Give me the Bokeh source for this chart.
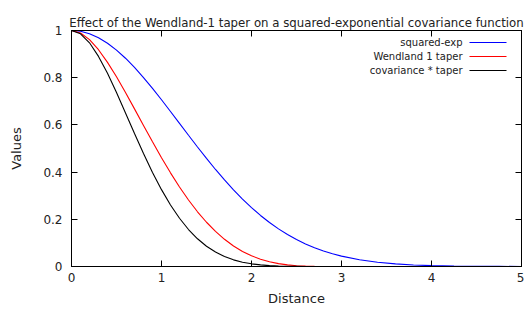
from bokeh.plotting import figure
from bokeh.models import LinearAxis, FixedTicker, Label, Arrow, Range1d
from bokeh.embed import file_html
from bokeh.resources import INLINE

# ---- data ----
distance = [0.0, 0.1, 0.2, 0.3, 0.4, 0.5, 0.6, 0.7, 0.8, 0.9,
            1.0, 1.1, 1.2, 1.3, 1.4, 1.5, 1.6, 1.7, 1.8, 1.9,
            2.0, 2.1, 2.2, 2.3, 2.4, 2.5, 2.6, 2.7, 2.8, 2.9,
            3.0, 3.2, 3.4, 3.6, 3.8, 4.0, 4.25, 4.5, 4.75, 5.0]
squared_exp = [1.0, 0.9965, 0.9862, 0.9692, 0.9460, 0.9169, 0.8825, 0.8435, 0.8007, 0.7548,
               0.7066, 0.6569, 0.6065, 0.5561, 0.5063, 0.4578, 0.4111, 0.3666, 0.3247, 0.2855,
               0.2494, 0.2163, 0.1863, 0.1593, 0.1353, 0.1141, 0.0956, 0.0796, 0.0657, 0.0539,
               0.0439, 0.0286, 0.0181, 0.0111, 0.0066, 0.0039, 0.0019, 0.0009, 0.0004, 0.0002]
wendland_taper = [1.0, 0.9896, 0.9612, 0.9185, 0.8651, 0.8038, 0.7373, 0.6679, 0.5977, 0.5282,
                  0.4609, 0.3969, 0.3370, 0.2818, 0.2319, 0.1875, 0.1486, 0.1152, 0.0870, 0.0639,
                  0.0453, 0.0308, 0.0199, 0.0121, 0.0067, 0.0033, 0.0014, 0.0005, 0.0001, 0.0,
                  0.0, 0.0, 0.0, 0.0, 0.0, 0.0, 0.0, 0.0, 0.0, 0.0]
cov_times_taper = [1.0, 0.9861, 0.9479, 0.8902, 0.8184, 0.7370, 0.6507, 0.5634, 0.4786, 0.3987,
                   0.3257, 0.2607, 0.2044, 0.1567, 0.1174, 0.0858, 0.0611, 0.0422, 0.0282, 0.0182,
                   0.0113, 0.0067, 0.0037, 0.0019, 0.0009, 0.0004, 0.0001, 0.0, 0.0, 0.0,
                   0.0, 0.0, 0.0, 0.0, 0.0, 0.0, 0.0, 0.0, 0.0, 0.0]

x_ticks = [0, 1, 2, 3, 4, 5]
y_ticks = [0, 0.2, 0.4, 0.6, 0.8, 1]
y_tick_labels = ["0", "0.2", "0.4", "0.6", "0.8", "1"]
series_names = ["squared-exp", "Wendland 1 taper", "covariance * taper"]
series_colors = ["#0000ff", "#ff0000", "#000000"]
title_text = "Effect of the Wendland-1 taper on a squared-exponential covariance function"

FONT = "DejaVu Sans"
W, H = 524, 308

p = figure(width=W, height=H, output_backend="svg", toolbar_location=None,
           x_range=Range1d(0, 5), y_range=Range1d(0, 1),
           min_border_left=71, min_border_right=3, min_border_top=30, min_border_bottom=42,
           title=title_text)
p.title.text_font = FONT
p.title.text_font_size = "11.75px"
p.title.text_font_style = "normal"
p.title.text_color = "#222222"
p.title.align = "center"
p.title.standoff = 2

p.xgrid.visible = False
p.ygrid.visible = False
p.outline_line_color = "black"
p.outline_line_width = 1
p.background_fill_color = "white"
p.border_fill_color = "white"

for ys, c in zip([squared_exp, wendland_taper, cov_times_taper], series_colors):
    p.line(distance, ys, line_color=c, line_width=1.1)

def style_axis(ax, labels=True):
    ax.major_tick_in = 6
    ax.major_tick_out = 0
    ax.minor_tick_line_color = None
    ax.axis_line_color = "black"
    ax.major_tick_line_color = "black"
    ax.major_label_text_font = FONT
    ax.major_label_text_font_size = "12px" if labels else "1px"
    ax.major_label_text_color = "#222222"
    ax.axis_label_text_font = FONT
    ax.axis_label_text_font_size = "13px"
    ax.axis_label_text_font_style = "normal"
    ax.axis_label_text_color = "#222222"
    if not labels:
        ax.major_label_standoff = 0
        ax.major_label_overrides = {t: "" for t in ax.ticker.ticks}

xa = p.xaxis[0]
xa.ticker = FixedTicker(ticks=x_ticks)
xa.axis_label = "Distance"
style_axis(xa)
xa.major_label_standoff = 6
xa.axis_label_standoff = 6

ya = p.yaxis[0]
ya.ticker = FixedTicker(ticks=y_ticks)
ya.major_label_overrides = {t: s for t, s in zip(y_ticks, y_tick_labels)}
ya.axis_label = "Values"
style_axis(ya)
ya.major_label_standoff = 9
ya.axis_label_standoff = 16

top = LinearAxis(ticker=FixedTicker(ticks=x_ticks))
style_axis(top, labels=False)
p.add_layout(top, "above")
right = LinearAxis(ticker=FixedTicker(ticks=y_ticks))
style_axis(right, labels=False)
p.add_layout(right, "right")

# legend (gnuplot style: text right-aligned, sample line to the right); screen units are frame-relative
for i, (name, c) in enumerate(zip(series_names, series_colors)):
    ys = 224 - 14 * i
    p.add_layout(Label(x=391, y=ys, x_units="screen", y_units="screen", text=name,
                       text_align="right", text_baseline="middle",
                       text_font=FONT, text_font_size="10px", text_color="#222222"))
    p.add_layout(Arrow(x_start=398, y_start=ys, x_end=435, y_end=ys,
                       start_units="screen", end_units="screen",
                       line_color=c, line_width=1.1, end=None))

open("out.html", "w").write(file_html(p, INLINE))
